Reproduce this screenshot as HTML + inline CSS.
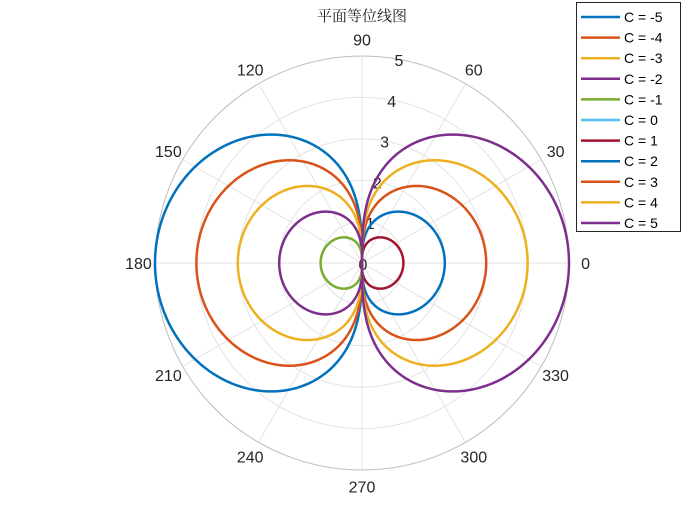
<!DOCTYPE html>
<html><head><meta charset="utf-8">
<style>
body{margin:0;background:#fff;width:700px;height:525px;overflow:hidden}
svg{display:block}
text{font-family:"Liberation Sans","Noto Sans CJK SC",sans-serif}
</style></head><body>
<svg id="chart" width="700" height="525" xmlns="http://www.w3.org/2000/svg">
<rect width="700" height="525" fill="#fff"/>
<g id="grid"></g>
<g id="series"></g>
<text x="362" y="21" text-anchor="middle" font-size="15" fill="#222" style="font-family:'Liberation Serif','Noto Serif CJK SC',serif">平面等位线图</text>
<g id="legend"></g>
</svg>
<script>
const cValues=[-5,-4,-3,-2,-1,0,1,2,3,4,5];
const colors=["#0072BD","#D95319","#EDB120","#7E2F8E","#77AC30","#4DBEEE","#A2142F","#0072BD","#D95319","#EDB120","#7E2F8E"];
const rTicks=[0,1,2,3,4,5];
const thetaTicks=[0,30,60,90,120,150,180,210,240,270,300,330];
const rMax=5;
const cx=362,cy=263,R=207;
const NS="http://www.w3.org/2000/svg";
function rs(r){return r/rMax*R;}
function px(r,deg){return cx+rs(r)*Math.cos(deg*Math.PI/180);}
function py(r,deg){return cy-rs(r)*Math.sin(deg*Math.PI/180);}
function mk(tag,attrs,parent){const e=document.createElementNS(NS,tag);for(const k in attrs)e.setAttribute(k,attrs[k]);parent.appendChild(e);return e;}
const grid=document.getElementById('grid');
rTicks.forEach(r=>{if(r===0)return;
 const c=mk('circle',{cx:cx,cy:cy,r:rs(r),fill:'none',stroke:r===rMax?'#bdbdbd':'#e3e3e3','stroke-width':1},grid);
 
 
});
thetaTicks.forEach(t=>{
 const l=mk('line',{x1:cx,y1:cy,x2:px(rMax,t),y2:py(rMax,t),stroke:'#e3e3e3','stroke-width':1},grid);
 
 
 const tx=mk('text',{x:px(rMax+0.4,t),y:py(rMax+0.4,t)+6,'text-anchor':'middle','font-size':16,fill:'#262626'},grid);
 tx.textContent=t;
 
 
});
const ser=document.getElementById('series');
cValues.forEach((C,i)=>{
 if(C===0){return;}
 let d='';const a=Math.abs(C),s=C<0?180:0;
 for(let k=0;k<=360;k++){const t=-90+k*0.5;const r=a*Math.sqrt(Math.max(0,Math.cos(t*Math.PI/180)));
  d+=(k?'L':'M')+px(r,t+s).toFixed(2)+','+py(r,t+s).toFixed(2);}
 const p=mk('path',{d:d,fill:'none',stroke:colors[i],'stroke-width':2.5},ser);
 
 
});
rTicks.forEach(r=>{
 const tx=mk('text',{x:px(r,80)+1,y:py(r,80)+7,'text-anchor':'middle','font-size':16,fill:'#262626'},grid);
 tx.textContent=r;
 
 
});
const lg=document.getElementById('legend');
const box=mk('rect',{x:576.5,y:2.5,width:104,height:229,fill:'#fff',stroke:'#262626','stroke-width':1},lg);


cValues.forEach((C,i)=>{
 const y=17+i*20.6;
 const l=mk('line',{x1:581,y1:y,x2:620,y2:y,stroke:colors[i],'stroke-width':2.5},lg);
 
 
 const t=mk('text',{x:624,y:y+5,'font-size':14,fill:'#000'},lg);
 t.textContent='C = '+C;
 
 
});
</script>
</body></html>
